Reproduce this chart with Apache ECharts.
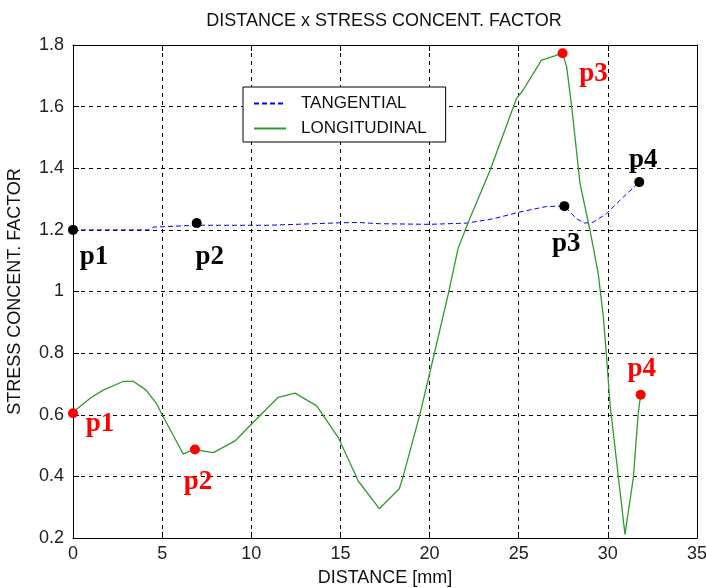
<!DOCTYPE html>
<html><head><meta charset="utf-8">
<script src="https://cdn.jsdelivr.net/npm/echarts@6/dist/echarts.min.js"></script>
<style>html,body{margin:0;padding:0;background:#fff}#c{width:706px;height:588px}</style>
</head><body><div id="c"></div>
<script>
// ---- data ----
const xTicks = [0, 5, 10, 15, 20, 25, 30, 35];
const yTicks = [0.2, 0.4, 0.6, 0.8, 1.0, 1.2, 1.4, 1.6, 1.8];

const tangX = [0, 4.3, 4.5, 7.0, 11.0, 15.0, 16.0, 17.2, 20.0, 22.08, 23.57, 25.07, 26.57, 27.56, 28.25, 28.7, 29.18, 29.93, 30.68, 31.76];
const tangY = [1.2, 1.2, 1.209, 1.215, 1.215, 1.223, 1.224, 1.22, 1.218, 1.222, 1.236, 1.258, 1.276, 1.277, 1.236, 1.222, 1.225, 1.253, 1.296, 1.355];

const longX = [0, 0.2, 1.0, 1.7, 2.8, 3.4, 4.1, 4.7, 5.0, 6.19, 6.56, 6.84, 7.87, 9.09, 10.1, 11.5, 12.45, 13.67, 14.88, 16.0, 17.18, 18.3, 18.5, 19.46, 20.0, 21.05, 21.6, 22.17, 23.39, 24.88, 25.25, 26.28, 27.46, 27.69, 27.97, 28.44, 29.0, 29.46, 29.75, 29.93, 30.12, 30.96, 31.43, 31.7, 31.84];
const longY = [0.605, 0.618, 0.655, 0.68, 0.708, 0.708, 0.68, 0.635, 0.6, 0.472, 0.483, 0.487, 0.477, 0.515, 0.575, 0.656, 0.67, 0.629, 0.526, 0.385, 0.295, 0.36, 0.396, 0.602, 0.733, 0.992, 1.14, 1.225, 1.393, 1.627, 1.654, 1.751, 1.773, 1.729, 1.6, 1.35, 1.198, 1.058, 0.916, 0.786, 0.635, 0.212, 0.396, 0.602, 0.665];

const pointNames = ['p1', 'p2', 'p3', 'p4'];
const tangPtsX = [0, 6.94, 27.56, 31.76];
const tangPtsY = [1.2, 1.222, 1.277, 1.355];
const longPtsX = [0, 6.84, 27.46, 31.84];
const longPtsY = [0.605, 0.487, 1.773, 0.665];

// ---- styling (label placement relative to markers, px) ----
const tangLabelOffsets = [[21, 27], [13, 34], [2, 38], [4, -22]];
const longLabelOffsets = [[27, 11], [3, 32], [31, 21], [1, -26]];

const SANS = '"Liberation Sans", Arial, sans-serif';
const SERIF = '"Liberation Serif", "Times New Roman", serif';

function pts(xs, ys, offs) {
  return xs.map((x, i) => ({
    name: pointNames[i],
    value: [x, ys[i]],
    label: { offset: offs[i] }
  }));
}

const chart = echarts.init(document.getElementById('c'), null, { renderer: 'canvas' });
const axisCommon = {
  type: 'value',
  axisLine: { show: true, onZero: false, lineStyle: { color: '#000', width: 1 } },
  axisTick: { show: true, inside: true, length: 6, lineStyle: { color: '#000' } },
};
chart.setOption({
  animation: false,
  backgroundColor: '#fff',
  title: {
    text: 'DISTANCE x STRESS CONCENT. FACTOR',
    left: 384, top: 12, padding: 0, textAlign: 'center',
    textStyle: { fontFamily: SANS, fontSize: 18, fontWeight: 'normal', color: '#111' }
  },
  legend: {
    data: ['TANGENTIAL', 'LONGITUDINAL'],
    orient: 'vertical',
    left: 243, top: 87,
    padding: [8, 19, 5, 10],
    itemWidth: 32, itemHeight: 14, itemGap: 8,
    itemStyle: { opacity: 0 },
    backgroundColor: '#fff', borderColor: '#000', borderWidth: 1, borderRadius: 0,
    textStyle: { fontFamily: SANS, fontSize: 17, color: '#111', padding: [0, 0, 0, 10] }
  },
  grid: { left: 73, top: 45, right: 9, bottom: 50, containLabel: false, outerBoundsMode: 'none' },
  xAxis: [
    Object.assign({}, axisCommon, {
      position: 'bottom',
      min: xTicks[0], max: xTicks[xTicks.length - 1], interval: xTicks[1] - xTicks[0],
      name: 'DISTANCE [mm]', nameLocation: 'middle', nameGap: 31,
      nameTextStyle: { fontFamily: SANS, fontSize: 18, color: '#111' },
      axisLabel: { fontFamily: SANS, fontSize: 18, color: '#222', margin: 7 },
      splitLine: { show: true, lineStyle: { color: '#000', type: [4, 4], width: 1 } }
    }),
    Object.assign({}, axisCommon, {
      position: 'top',
      min: xTicks[0], max: xTicks[xTicks.length - 1], interval: xTicks[1] - xTicks[0],
      axisLabel: { show: false }, splitLine: { show: false }
    })
  ],
  yAxis: [
    Object.assign({}, axisCommon, {
      position: 'left',
      min: yTicks[0], max: yTicks[yTicks.length - 1], interval: 0.2,
      name: 'STRESS CONCENT. FACTOR', nameLocation: 'middle', nameGap: 49,
      nameTextStyle: { fontFamily: SANS, fontSize: 18, color: '#111' },
      axisLabel: { fontFamily: SANS, fontSize: 18, color: '#222', margin: 9 },
      splitLine: { show: true, lineStyle: { color: '#000', type: [4, 4], width: 1 } }
    }),
    Object.assign({}, axisCommon, {
      position: 'right',
      min: yTicks[0], max: yTicks[yTicks.length - 1], interval: 0.2,
      axisLabel: { show: false }, splitLine: { show: false }
    })
  ],
  series: [
    {
      name: 'TANGENTIAL', type: 'line', symbol: 'none', z: 3,
      data: tangX.map((x, i) => [x, tangY[i]]),
      lineStyle: { color: '#0000ff', width: 1, type: [5, 3] },
      itemStyle: { color: '#0000ff' }
    },
    {
      name: 'LONGITUDINAL', type: 'line', symbol: 'none', z: 3,
      data: longX.map((x, i) => [x, longY[i]]),
      lineStyle: { color: '#2f9a2f', width: 1.3 },
      itemStyle: { color: '#2f9a2f' }
    },
    {
      name: 'tangPts', type: 'scatter', symbol: 'circle', symbolSize: 10, z: 5,
      itemStyle: { color: '#000', opacity: 1 },
      label: { show: true, position: 'inside', formatter: '{b}', align: 'center', verticalAlign: 'middle',
        fontFamily: SERIF, fontWeight: 'bold', fontSize: 27, color: '#000', opacity: 1 },
      data: pts(tangPtsX, tangPtsY, tangLabelOffsets)
    },
    {
      name: 'longPts', type: 'scatter', symbol: 'circle', symbolSize: 10, z: 5,
      itemStyle: { color: '#ff0000', opacity: 1 },
      label: { show: true, position: 'inside', formatter: '{b}', align: 'center', verticalAlign: 'middle',
        fontFamily: SERIF, fontWeight: 'bold', fontSize: 27, color: '#ff0000', opacity: 1 },
      data: pts(longPtsX, longPtsY, longLabelOffsets)
    }
  ]
});
</script>
</body></html>
